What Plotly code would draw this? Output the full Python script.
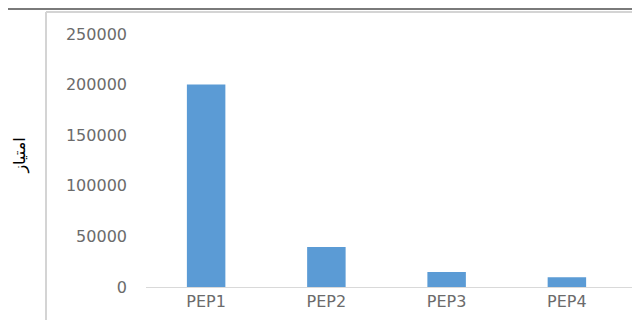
import plotly.graph_objects as go

# Peptide scores
peptides = ['PEP1', 'PEP2', 'PEP3', 'PEP4']
scores = [200000, 39500, 14800, 9600]
y_ticks = [0, 50000, 100000, 150000, 200000, 250000]
y_title = 'امتیاز'

fig = go.Figure()

fig.add_trace(go.Bar(
    x=peptides,
    y=scores,
    marker=dict(color='#5b9bd5', line=dict(width=0)),
    hoverinfo='x+y'
))

# page body has an 8px margin, so size and margins are trimmed by 8
fig.update_layout(
    width=632,
    height=312,
    margin=dict(l=138, r=0, t=26, b=33),
    paper_bgcolor='white',
    plot_bgcolor='white',
    bargap=0.68,
    showlegend=False,
    font=dict(family='DejaVu Sans', size=16, color='#6b6b6b'),
)

fig.update_xaxes(
    range=[-0.5, 3.608],
    showgrid=False,
    showline=True,
    linecolor='#d9d9d9',
    linewidth=1,
    ticks='',
    zeroline=False,
)
fig.update_yaxes(
    range=[0, 250000],
    tickvals=y_ticks,
    ticktext=[str(v) for v in y_ticks],
    showgrid=False,
    zeroline=False,
    showline=False,
    ticks='',
    ticklabelstandoff=18,
)

# axis title sits outside the chart border, like the Excel screenshot
fig.add_annotation(
    text=y_title,
    xref='paper', yref='paper',
    x=-0.279, y=0.52,
    textangle=-90,
    showarrow=False,
    font=dict(family='DejaVu Sans', size=16, color='black'),
)

# chart area border (left + top) and the dark line above it
fig.add_shape(type='line', xref='paper', yref='paper',
              x0=-0.2024, x1=-0.2024, y0=1.087, y1=-0.2,
              line=dict(color='#d4d4d4', width=2))
fig.add_shape(type='line', xref='paper', yref='paper',
              x0=-0.2024, x1=1.0, y0=1.087, y1=1.087,
              line=dict(color='#d4d4d4', width=2))
fig.add_shape(type='line', xref='paper', yref='paper',
              x0=-0.3, x1=1.0, y0=1.0988, y1=1.0988,
              line=dict(color='#7a7a7a', width=2))

fig.write_html("out.html")
